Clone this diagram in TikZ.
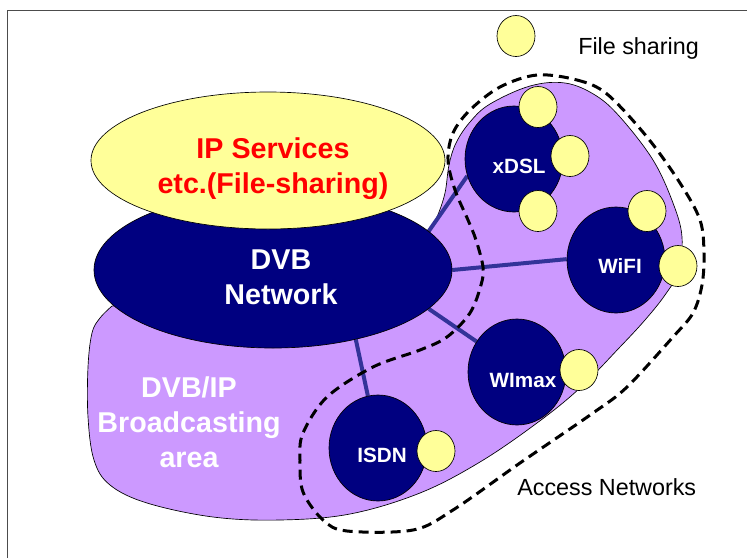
\documentclass[tikz,border=0pt]{standalone}
\usepackage{fontspec}
\setmainfont{Liberation Sans}
\usetikzlibrary{shapes.geometric}
\definecolor{lilac}{HTML}{CC99FF}
\definecolor{navy}{HTML}{000080}
\definecolor{paleyellow}{HTML}{FFFF99}
\definecolor{linkblue}{HTML}{333399}
\pgfdeclarelayer{bg}
\pgfdeclarelayer{links}
\pgfsetlayers{bg,links,main}
\begin{document}
\begin{tikzpicture}[x=0.75pt,y=-0.75pt,
  net/.style={ellipse, draw=black, line width=0.5pt, fill=navy, minimum width=73.5pt, minimum height=79.5pt, inner sep=0pt},
  share/.style={ellipse, draw=black, line width=0.5pt, fill=paleyellow, minimum width=28.5pt, minimum height=30.75pt, inner sep=0pt},
  netlabel/.style={text=white, font=\bfseries\fontsize{15.5}{18}\selectfont, anchor=base, inner sep=0pt},
  biglabel/.style={font=\bfseries\fontsize{21.5}{26.25}\selectfont, align=center, inner sep=0pt},
  link/.style={draw=linkblue, line width=3pt},
  plainlabel/.style={font=\fontsize{17.5}{21}\selectfont, anchor=base west, inner sep=0pt},
  blob/.style={fill=lilac, draw=black, line width=0.5pt},
  accessline/.style={draw=black, line width=2.25pt, dash pattern=on 7.5pt off 4.5pt}
]
\useasboundingbox (0,0) rectangle (747,558);
\begin{pgfonlayer}{bg}
\fill[white] (0,0) rectangle (747,558);
\draw[line width=0.9pt, black!70] (7.5,558) -- (7.5,10.5) -- (747,10.5);
\filldraw[blob] plot[smooth, tension=0.6] coordinates {
 (427,236) (437,217) (445,193) (449,165) (456,143) (470,122) (490,104) (530,86)
 (565,83) (595,95) (620,117) (653,160) (673,203) (682,237) (678,272) (665,295)
 (645,320) (620,347) (580,388) (537,423) (480,462) (420,493) (350,514) (280,520)
 (213,517) (147,503) (110,485) (94,460) (88,417) (88,367) (92,333) (100,318) (112,306)}
 -- (200,300) -- (420,250) -- cycle;
\end{pgfonlayer}

% main ellipses
\node[ellipse, draw=black, line width=0.5pt, fill=navy, minimum width=268.5pt, minimum height=117pt, inner sep=0pt] (dvb) at (273,270) {};
\node[ellipse, draw=black, line width=0.5pt, fill=paleyellow, minimum width=265.5pt, minimum height=102.75pt, inner sep=0pt] (ip) at (268,160.5) {};
\node[biglabel, text=red] (iptext) at (273,169) {IP Services\\etc.(File-sharing)};
\node[biglabel, text=white] (dvbtext) at (281,277) {DVB\\Network};
\node[biglabel, text=white] (areatext) at (189,422) {DVB/IP\\Broadcasting\\area};

% access networks
\node[net] (xdsl) at (514,159) {};
\node[net] (wifi) at (616,260) {};
\node[net] (wimax) at (517,372) {};
\node[net] (isdn) at (378,448) {};
\node[netlabel] (xdsltext) at (519,173) {xDSL};
\node[netlabel] (wifitext) at (620,273) {WiFI};
\node[netlabel] (wimaxtext) at (523,387) {WImax};
\node[netlabel] (isdntext) at (382,462) {ISDN};

\begin{pgfonlayer}{links}
\draw[link] (dvb.14) -- (xdsl.200);
\draw[link] (dvb.0) -- (wifi.179);
\draw[link] (dvb.-14) -- (wimax.143);
\draw[link] (dvb.-40) -- (isdn.101);
\end{pgfonlayer}

% file sharing spots
\node[share] (fs1) at (538,107) {};
\node[share] (fs2) at (570,156) {};
\node[share] (fs3) at (538,211) {};
\node[share] (fs4) at (647,211) {};
\node[share] (fs5) at (678,266) {};
\node[share] (fs6) at (579,370) {};
\node[share] (fs7) at (436,451) {};
\node[share] (legend) at (516,36) {};
\node[plainlabel] (legendtext) at (578,54) {File sharing};

% access networks boundary
\draw[accessline] plot[smooth cycle, tension=0.55] coordinates {
 (537,75) (577,80) (607,94) (647,137) (680,183) (700,220) (704,253) (702,285)
 (693,313) (673,337) (627,387) (593,413) (520,463) (453,510) (413,530) (347,531)
 (323,520) (303,492) (300,460) (303,433) (327,397) (373,367) (420,350) (447,337)
 (470,313) (481,285) (483,267) (476,240) (468,220) (455,190) (448,160) (453,133)
 (470,110) (500,87)};
\node[plainlabel] (accesstext) at (517,495) {Access Networks};
\end{tikzpicture}
\end{document}
